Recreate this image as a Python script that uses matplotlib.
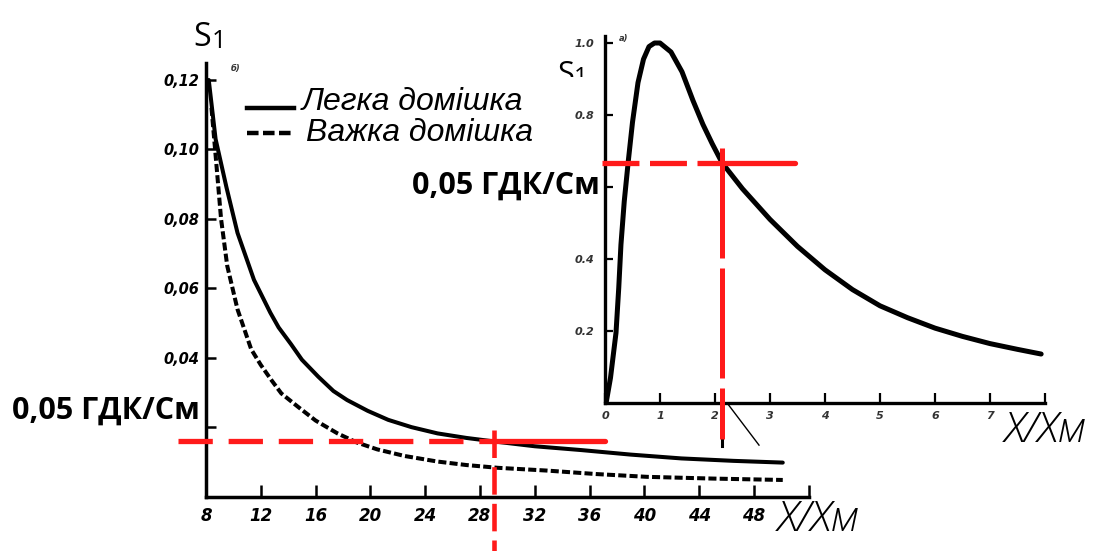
import matplotlib
matplotlib.use('Agg')
import matplotlib.pyplot as plt
from matplotlib.lines import Line2D
from matplotlib.patches import Rectangle

W, H = 1096, 551

# ---------------- data ----------------
# main chart: S1 vs X/Xm
light_x = [8.2, 8.7, 9.5, 10.3, 11.5, 12.7, 13.3, 14.2, 15.0, 16.2, 17.3, 18.3, 19.8,
           21.3, 23.0, 24.9, 27.0, 29.0, 32.0, 35.4, 39.0, 42.7, 46.5, 50.1]
light_y = [0.120, 0.103, 0.089, 0.076, 0.0625, 0.0530, 0.0488, 0.0440, 0.0395, 0.0346,
           0.0305, 0.0279, 0.0248, 0.0222, 0.0201, 0.0183, 0.0170, 0.0160, 0.0146, 0.0135,
           0.0122, 0.0111, 0.0104, 0.0099]
heavy_x = [8.4, 8.73, 9.1, 9.55, 10.3, 11.3, 12.0, 12.8, 13.5, 14.7, 16.0, 17.6, 19.0,
           20.5, 22.5, 24.9, 27.0, 29.3, 32.9, 36.5, 40.2, 45.0, 50.1]
heavy_y = [0.112, 0.097, 0.080, 0.0665, 0.054, 0.0425, 0.0380, 0.0335, 0.0298, 0.0260,
           0.0220, 0.0183, 0.0157, 0.0137, 0.0118, 0.0102, 0.0092, 0.0084, 0.0076, 0.0066,
           0.0058, 0.0053, 0.0049]
main_xticks = [8, 12, 16, 20, 24, 28, 32, 36, 40, 44, 48, 52]
main_xticklabels = ['8', '12', '16', '20', '24', '28', '32', '36', '40', '44', '48', '']
main_yticks = [0.02, 0.04, 0.06, 0.08, 0.10, 0.12]
main_yticklabels = ['', '0,04', '0,06', '0,08', '0,10', '0,12']
main_limit_y = 0.0162   # 0,05 ГДК/См level
main_limit_x = 29.0

# inset chart
inset_x = [0.02, 0.1, 0.2, 0.25, 0.29, 0.35, 0.42, 0.5, 0.6, 0.7, 0.8, 0.9, 1.0,
           1.2, 1.4, 1.6, 1.78, 1.95, 2.13, 2.5, 3.0, 3.5, 4.0, 4.5, 5.0, 5.5, 6.0,
           6.5, 7.0, 7.5, 7.93]
inset_y = [0.0, 0.07, 0.195, 0.32, 0.44, 0.56, 0.667, 0.78, 0.89, 0.955, 0.99, 1.0, 1.0,
           0.975, 0.92, 0.84, 0.774, 0.72, 0.667, 0.595, 0.51, 0.435, 0.37, 0.315, 0.27,
           0.237, 0.208, 0.185, 0.165, 0.149, 0.136]
inset_xticks = [0, 1, 2, 3, 4, 5, 6, 7, 8]
inset_xticklabels = ['0', '1', '2', '3', '4', '5', '6', '7', '']
inset_yticks = [0.2, 0.4, 0.6, 0.8, 1.0]
inset_yticklabels = ['0.2', '0.4', '', '0.8', '1.0']
inset_limit_y = 0.667
inset_limit_x = 2.13

legend_labels = ['Легка домішка', 'Важка домішка']
limit_label = '0,05 ГДК/См'
x_label = 'X/Xм'

RED = '#ff1a1a'

def fx(x):
    return x / W

def fy(y):
    return 1 - y / H

fig = plt.figure(figsize=(10.96, 5.51), dpi=100)
fig.patch.set_facecolor('white')

tickfont = dict(family='DejaVu Sans', style='italic', weight='bold')

# ---------------- main axes ----------------
ax = fig.add_axes([206 / W, 1 - 497 / H, 602.8 / W, 434.4 / H])
ax.set_facecolor('none')
ax.set_xlim(8, 52)
ax.set_ylim(0, 0.125)
ax.plot(light_x, light_y, color='black', lw=2.9, solid_capstyle='round',
        solid_joinstyle='round', zorder=3)
ax.plot(heavy_x, heavy_y, color='black', lw=2.9, dashes=(2.0, 0.8), zorder=3)
for s in ['top', 'right']:
    ax.spines[s].set_visible(False)
for s in ['left', 'bottom']:
    ax.spines[s].set_linewidth(2.5)
ax.set_xticks(main_xticks)
ax.set_xticklabels(main_xticklabels, fontdict=dict(size=12, **tickfont))
ax.set_yticks(main_yticks)
ax.set_yticklabels(main_yticklabels, fontdict=dict(size=10.5, **tickfont))
ax.tick_params(axis='x', direction='in', length=9, width=1.8, pad=7, colors='black')
ax.tick_params(axis='y', direction='in', length=7, width=1.8, pad=5, colors='black')

# red threshold lines (main)
x_left = 8 + (178 - 206) / 13.7
x_right = 8 + (605 - 206) / 13.7
ax.plot([x_left, main_limit_x], [main_limit_y, main_limit_y], color=RED, lw=3.8,
        dashes=(6.5, 3.0), clip_on=False, zorder=5, solid_capstyle='butt')
ax.plot([main_limit_x, x_right], [main_limit_y, main_limit_y], color=RED, lw=3.8,
        clip_on=False, zorder=5, solid_capstyle='round')
ax.plot([main_limit_x, main_limit_x], [main_limit_y + 0.003, -0.017], color=RED, lw=3.3,
        dashes=(6.0, 2.0), clip_on=False, zorder=5)

# ---------------- inset axes ----------------
ax2 = fig.add_axes([605 / W, 1 - 403 / H, 440 / W, 367.2 / H])
ax2.set_facecolor('none')
ax2.set_xlim(0, 8)
ax2.set_ylim(0, 1.02)
ax2.plot(inset_x, inset_y, color='black', lw=3.6, solid_capstyle='round',
         solid_joinstyle='round', zorder=3)
for s in ['top', 'right']:
    ax2.spines[s].set_visible(False)
for s in ['left', 'bottom']:
    ax2.spines[s].set_linewidth(2.4)
ax2.set_xticks(inset_xticks)
ax2.set_xticklabels(inset_xticklabels, fontdict=dict(size=8, color='#333333', **tickfont))
ax2.set_yticks(inset_yticks)
ax2.set_yticklabels(inset_yticklabels, fontdict=dict(size=8, color='#333333', **tickfont))
ax2.tick_params(axis='x', direction='in', length=7, width=1.6, pad=6)
ax2.tick_params(axis='y', direction='in', length=6, width=1.6, pad=8)

ax2.plot([-0.05, inset_limit_x], [inset_limit_y, inset_limit_y], color=RED, lw=3.8,
         dashes=(7.0, 2.0), clip_on=False, zorder=5)
ax2.plot([inset_limit_x, 3.45], [inset_limit_y, inset_limit_y], color=RED, lw=3.8,
         clip_on=False, zorder=5, solid_capstyle='round')
ax2.plot([inset_limit_x, inset_limit_x], [inset_limit_y + 0.04, -0.10], color=RED, lw=3.6,
         dashes=(22, 2.0), clip_on=False, zorder=5)
# scan artefacts below the inset axis
ax2.plot([inset_limit_x, inset_limit_x], [-0.08, -0.12], color='black', lw=2.2, clip_on=False)
ax2.plot([2.22, 2.8], [0.0, -0.117], color='black', lw=1.0, clip_on=False)

# ---------------- texts ----------------
fig.text(fx(202), fy(37), 'S', fontsize=23, family='Open Sans', ha='center', va='center')
fig.text(fx(219), fy(41), '1', fontsize=18, family='Open Sans', ha='center', va='center')
fig.text(fx(236), fy(68), 'б)', fontsize=6, family='DejaVu Sans', style='italic',
         weight='bold', ha='center', va='center', color='#333333')
fig.text(fx(624), fy(38), 'а)', fontsize=6, family='DejaVu Sans', style='italic',
         weight='bold', ha='center', va='center', color='#333333')

# inset S1 (partly hidden in the picture)
fig.text(fx(566), fy(75), 'S', fontsize=22, family='Open Sans', ha='center', va='center')
fig.text(fx(581), fy(78), '1', fontsize=17, family='Open Sans', ha='center', va='center')
fig.patches.append(Rectangle((fx(550), fy(100)), fx(598) - fx(550), fy(77) - fy(100),
                             transform=fig.transFigure, facecolor='white',
                             edgecolor='none', zorder=10))

# legend
fig.lines.append(Line2D([fx(247), fx(294)], [fy(108), fy(108)], transform=fig.transFigure,
                        color='black', lw=3.2))
fig.lines.append(Line2D([fx(247), fx(294)], [fy(133), fy(133)], transform=fig.transFigure,
                        color='black', lw=3.2, dashes=(2.6, 1.0)))
fig.text(fx(302), fy(110), legend_labels[0], fontsize=23, family='Liberation Sans',
         style='italic', ha='left', va='baseline')
fig.text(fx(306), fy(141), legend_labels[1], fontsize=23, family='Liberation Sans',
         style='italic', ha='left', va='baseline')

# limit labels
fig.text(fx(12), fy(411), limit_label, fontsize=22, family='Open Sans', weight='bold',
         ha='left', va='center')
fig.text(fx(412), fy(186), limit_label, fontsize=22, family='Open Sans', weight='bold',
         ha='left', va='center')

# axis labels
fig.text(fx(819), fy(520), x_label, fontsize=31, family='Open Sans', style='italic',
         weight='light', ha='center', va='center')
fig.text(fx(1046), fy(431), x_label, fontsize=31, family='Open Sans', style='italic',
         weight='light', ha='center', va='center')

fig.savefig('out.png', dpi=100, facecolor='white')
